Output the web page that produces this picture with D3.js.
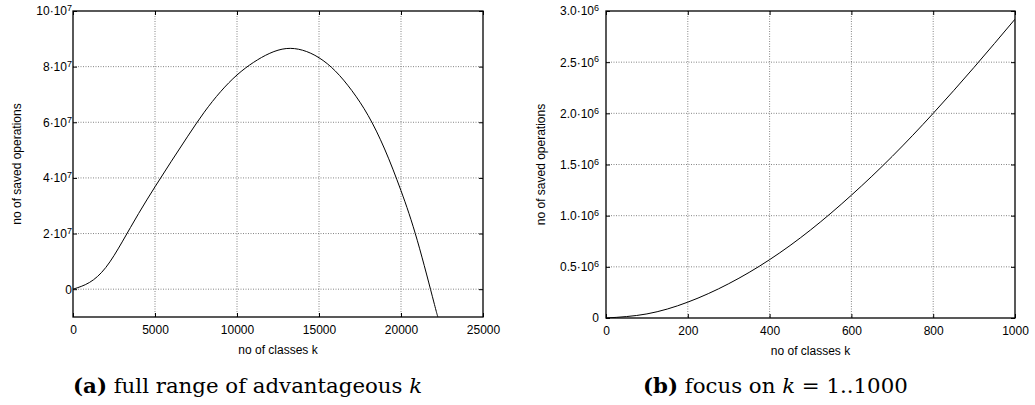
<!DOCTYPE html>
<html>
<head>
<meta charset="utf-8">
<script src="https://cdn.jsdelivr.net/npm/d3@7"></script>
<style>
  body { margin: 0; background: #fff; }
  svg { display: block; }
  .tick text, .lbl { font-family: "Liberation Sans", Arial, Helvetica, sans-serif; font-size: 12px; fill: #000; }
  .cap { font-family: "DejaVu Serif", "Liberation Serif", serif; font-size: 21.3px; fill: #000; }
</style>
</head>
<body>
<svg width="1035" height="405"></svg>
<script>
// panel (a): full range of k
const kA = [0, 1000, 2000, 3000, 4000, 5000, 6000, 7000, 8000, 9000, 10000, 11000, 12000, 13000,
            14000, 15000, 16000, 17000, 18000, 19000, 20000, 21000, 22000, 22250];
const savedA = [0, 0.24e7, 0.78e7, 1.7e7, 2.72e7, 3.68e7, 4.6e7, 5.5e7, 6.36e7, 7.1e7, 7.7e7, 8.15e7, 8.48e7, 8.65e7,
                8.59e7, 8.32e7, 7.84e7, 7.14e7, 6.24e7, 5.04e7, 3.54e7, 1.74e7, -0.46e7, -1.0e7];
const xTicksA = [0, 5000, 10000, 15000, 20000, 25000];
const yTicksA = [0, 2e7, 4e7, 6e7, 8e7, 10e7];
const yTickLabelsA = ["0", "2·10^7", "4·10^7", "6·10^7", "8·10^7", "10·10^7"];

// panel (b): k = 1..1000
const kB = [0, 100, 200, 300, 400, 500, 600, 700, 800, 900, 1000];
const savedB = [0, 0.04e6, 0.155e6, 0.335e6, 0.57e6, 0.86e6, 1.2e6, 1.58e6, 2.0e6, 2.45e6, 2.92e6];
const xTicksB = [0, 200, 400, 600, 800, 1000];
const yTicksB = [0, 0.5e6, 1.0e6, 1.5e6, 2.0e6, 2.5e6, 3.0e6];
const yTickLabelsB = ["0", "0.5·10^6", "1.0·10^6", "1.5·10^6", "2.0·10^6", "2.5·10^6", "3.0·10^6"];

const svg = d3.select("svg");

function supLabel(sel, labels) {
    sel.each(function(d, i) {
        const t = d3.select(this).text(null);
        const parts = labels[i].split("^");
        t.append("tspan").text(parts[0]);
        if (parts[1]) {
            t.append("tspan").attr("dy", "-0.45em").style("font-size", "9px").text(parts[1]);
        }
    });
}

function drawPanel(o) {
    const g = svg.append("g");
    const x = d3.scaleLinear().domain(o.xDomain).range([o.left, o.right]);
    const y = d3.scaleLinear().domain(o.yDomain).range([o.bottom, o.top]);

    // grid
    g.selectAll(".gx").data(o.xTicks.filter(d => d > o.xDomain[0] && d < o.xDomain[1]))
        .enter().append("line")
        .attr("x1", d => x(d)).attr("x2", d => x(d))
        .attr("y1", o.top).attr("y2", o.bottom)
        .attr("stroke", "#666").attr("stroke-width", 0.8).attr("stroke-dasharray", "1,1.5");
    g.selectAll(".gy").data(o.yTicks.filter(d => d > o.yDomain[0] && d < o.yDomain[1]))
        .enter().append("line")
        .attr("y1", d => y(d)).attr("y2", d => y(d))
        .attr("x1", o.left).attr("x2", o.right)
        .attr("stroke", "#666").attr("stroke-width", 0.8).attr("stroke-dasharray", "1,1.5");

    // axes with inward ticks
    g.append("g").attr("transform", `translate(0,${o.bottom})`)
        .call(d3.axisBottom(x).tickValues(o.xTicks).tickFormat(d3.format("d")).tickSize(-4).tickPadding(8));
    const ay = g.append("g").attr("transform", `translate(${o.left},0)`)
        .call(d3.axisLeft(y).tickValues(o.yTicks).tickSize(-4).tickPadding(o.yPad));
    supLabel(ay.selectAll(".tick text"), o.yLabels);
    g.append("g").attr("transform", `translate(0,${o.top})`)
        .call(d3.axisTop(x).tickValues(o.xTicks).tickFormat("").tickSize(-4));
    g.append("g").attr("transform", `translate(${o.right},0)`)
        .call(d3.axisRight(y).tickValues(o.yTicks).tickFormat("").tickSize(-4));
    g.selectAll(".domain").remove();
    g.selectAll(".tick line").attr("stroke", "#000");

    g.append("rect")
        .attr("x", o.left).attr("y", o.top)
        .attr("width", o.right - o.left).attr("height", o.bottom - o.top)
        .attr("fill", "none").attr("stroke", "#000").attr("stroke-width", 1.3);

    // curve
    const clipId = "clip" + o.id;
    g.append("clipPath").attr("id", clipId).append("rect")
        .attr("x", o.left).attr("y", o.top)
        .attr("width", o.right - o.left).attr("height", o.bottom - o.top);
    const line = d3.line().x(d => x(d[0])).y(d => y(d[1])).curve(d3.curveNatural);
    g.append("path")
        .datum(o.ks.map((k, i) => [k, o.vals[i]]))
        .attr("clip-path", `url(#${clipId})`)
        .attr("d", line)
        .attr("fill", "none").attr("stroke", "#000").attr("stroke-width", 1);

    // axis titles
    g.append("text").attr("class", "lbl")
        .attr("x", (o.left + o.right) / 2).attr("y", o.bottom + 37)
        .attr("text-anchor", "middle").text("no of classes k");
    g.append("text").attr("class", "lbl")
        .attr("transform", `translate(${o.yTitleX},${(o.top + o.bottom) / 2}) rotate(-90)`)
        .attr("text-anchor", "middle").text("no of saved operations");

    // caption
    const cap = g.append("text").attr("class", "cap")
        .attr("x", o.capX).attr("y", 393);
    o.caption.forEach(p => {
        const ts = cap.append("tspan").text(p.t);
        if (p.b) ts.attr("font-weight", "bold");
        if (p.i) ts.attr("font-style", "italic");
    });
}

drawPanel({
    id: "a", left: 73, right: 483, top: 11, bottom: 317,
    xDomain: [0, 25000], yDomain: [-1e7, 10e7],
    xTicks: xTicksA, yTicks: yTicksA, yLabels: yTickLabelsA, yPad: 1,
    ks: kA, vals: savedA, yTitleX: 21,
    capX: 73, caption: [{t: "(a)", b: true}, {t: " full range of advantageous "}, {t: "k", i: true}]
});

drawPanel({
    id: "b", left: 606, right: 1015, top: 11, bottom: 318,
    xDomain: [0, 1000], yDomain: [0, 3e6],
    xTicks: xTicksB, yTicks: yTicksB, yLabels: yTickLabelsB, yPad: 7,
    ks: kB, vals: savedB, yTitleX: 545,
    capX: 643, caption: [{t: "(b)", b: true}, {t: " focus on "}, {t: "k", i: true}, {t: " = 1..1000"}]
});
</script>
</body>
</html>
